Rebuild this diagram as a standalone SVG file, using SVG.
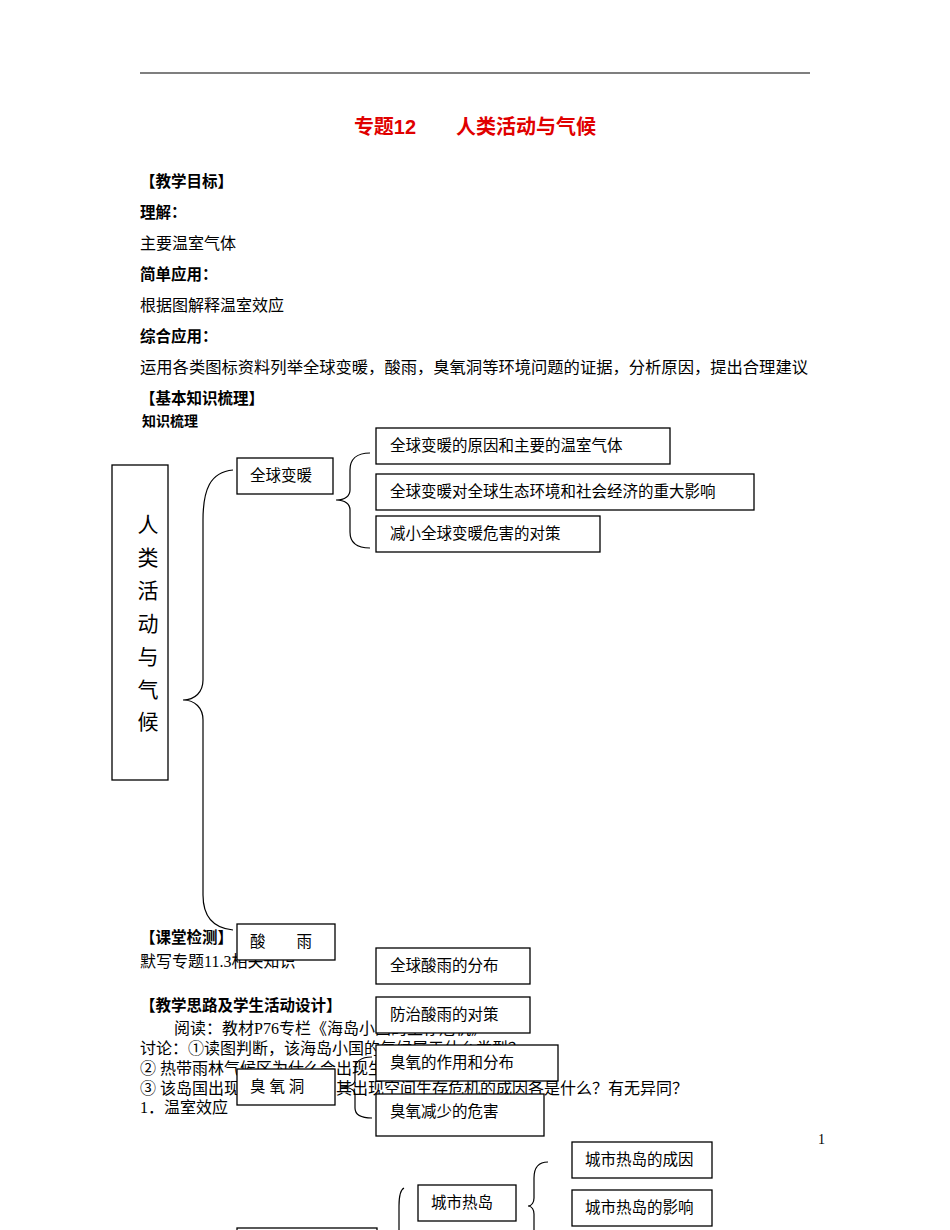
<svg xmlns="http://www.w3.org/2000/svg" width="950" height="1230" viewBox="0 0 950 1230">
<style>
text{font-family:"Liberation Serif","Noto Sans CJK SC",serif;font-size:15.5px;fill:#000}
.t{font-size:16px}
.b{font-family:"Liberation Sans","Noto Sans CJK SC",sans-serif;font-weight:bold}
.box{fill:#fff;stroke:#000;stroke-width:1.3}
.br{fill:none;stroke:#000;stroke-width:1.2}
</style>
<rect width="950" height="1230" fill="#fff"/>
<line x1="140" y1="73" x2="810" y2="73" stroke="#000" stroke-width="1.2"/>
<text x="475" y="134" text-anchor="middle" class="b" style="fill:#e00000;font-size:20px">专题12　　人类活动与气候</text>
<text x="140" y="187" class="b">【教学目标】</text>
<text x="140" y="218" class="b">理解：</text>
<text x="140" y="249" class="t">主要温室气体</text>
<text x="140" y="280" class="b">简单应用：</text>
<text x="140" y="311" class="t">根据图解释温室效应</text>
<text x="140" y="342" class="b">综合应用：</text>
<text x="140" y="373" class="t" textLength="668" lengthAdjust="spacingAndGlyphs">运用各类图标资料列举全球变暖，酸雨，臭氧洞等环境问题的证据，分析原因，提出合理建议</text>
<text x="140" y="404" class="b">【基本知识梳理】</text>
<text x="142" y="426" class="b" style="font-size:14px">知识梳理</text>
<text x="140" y="943" class="b">【课堂检测】</text>
<text x="140" y="967" class="t">默写专题11.3相关知识</text>
<text x="140" y="1011" class="b">【教学思路及学生活动设计】</text>
<text x="174" y="1034" class="t">阅读：教材P76专栏《海岛小国的生存危机》</text>
<text x="140" y="1054" class="t">讨论：①读图判断，该海岛小国的气候属于什么类型？</text>
<text x="140" y="1074" class="t">② 热带雨林气候区为什么会出现生态危机？</text>
<text x="140" y="1094" class="t">③ 该岛国出现的环境问题与其出现空间生存危机的成因各是什么？有无异同？</text>
<text x="140" y="1113" class="t">1．温室效应</text>
<text x="818" y="1144" style="font-size:14px">1</text>
<g id="connectors">
<path class="br" d="M233,470 C210,472 203,490 203,520 L203,680 C203,692 195,700 183,700 C195,700 203,708 203,720 L203,895 C203,915 212,928 233,930"/>
<path class="br" d="M370,453 C356,453 350,460 350,470 L350,490 C350,496 345,500 336,500 C345,500 350,504 350,510 L350,532 C350,542 356,548 370,548"/>
<path class="br" d="M372,1057 C360,1057 355,1062 355,1070 L355,1080 C355,1084 350,1087 340,1087 C350,1087 355,1090 355,1095 L355,1108 C355,1114 360,1118 372,1118"/>
<path class="br" d="M548,1162 C538,1162 534,1168 534,1178 L534,1198 C534,1202 532,1206 528,1206 C532,1206 534,1210 534,1214 L534,1230"/>
<path class="br" d="M404,1188 C400,1190 399,1196 399,1206 L399,1230"/>
</g>
<g id="n-root"><rect class="box" x="112" y="465" width="56" height="315"/>
<g text-anchor="middle" style="font-size:21px"><text x="148" y="532" style="font-size:21px">人</text><text x="148" y="565" style="font-size:21px">类</text><text x="148" y="598" style="font-size:21px">活</text><text x="148" y="631" style="font-size:21px">动</text><text x="148" y="664" style="font-size:21px">与</text><text x="148" y="697" style="font-size:21px">气</text><text x="148" y="729" style="font-size:21px">候</text></g></g>
<g id="n-qqbn"><rect class="box" x="237" y="458" width="96" height="36"/><text x="250" y="481">全球变暖</text></g>
<g id="n-q1"><rect class="box" x="376" y="428" width="294" height="36"/><text x="390" y="451">全球变暖的原因和主要的温室气体</text></g>
<g id="n-q2"><rect class="box" x="376" y="474" width="378" height="36"/><text x="390" y="497">全球变暖对全球生态环境和社会经济的重大影响</text></g>
<g id="n-q3"><rect class="box" x="376" y="516" width="224" height="36"/><text x="390" y="539">减小全球变暖危害的对策</text></g>
<g id="n-sy"><rect class="box" x="237" y="924" width="98" height="36"/><text x="250" y="947">酸　　雨</text></g>
<g id="n-s1"><rect class="box" x="376" y="948" width="154" height="36"/><text x="390" y="971">全球酸雨的分布</text></g>
<g id="n-s2"><rect class="box" x="376" y="997" width="154" height="36"/><text x="390" y="1020">防治酸雨的对策</text></g>
<g id="n-cy"><rect class="box" x="237" y="1069" width="98" height="36"/><text x="250" y="1092">臭 氧 洞</text></g>
<g id="n-c1"><rect class="box" x="376" y="1045" width="182" height="36"/><text x="390" y="1068">臭氧的作用和分布</text></g>
<g id="n-c2"><rect class="box" x="376" y="1094" width="168" height="42"/><text x="390" y="1117">臭氧减少的危害</text></g>
<g id="n-rd"><rect class="box" x="418" y="1185" width="98" height="36"/><text x="431" y="1208">城市热岛</text></g>
<g id="n-r1"><rect class="box" x="572" y="1142" width="140" height="36"/><text x="585" y="1165">城市热岛的成因</text></g>
<g id="n-r2"><rect class="box" x="572" y="1190" width="140" height="36"/><text x="585" y="1213">城市热岛的影响</text></g>
<g id="n-bottom"><rect class="box" x="237" y="1228" width="140" height="20"/></g>
</svg>
